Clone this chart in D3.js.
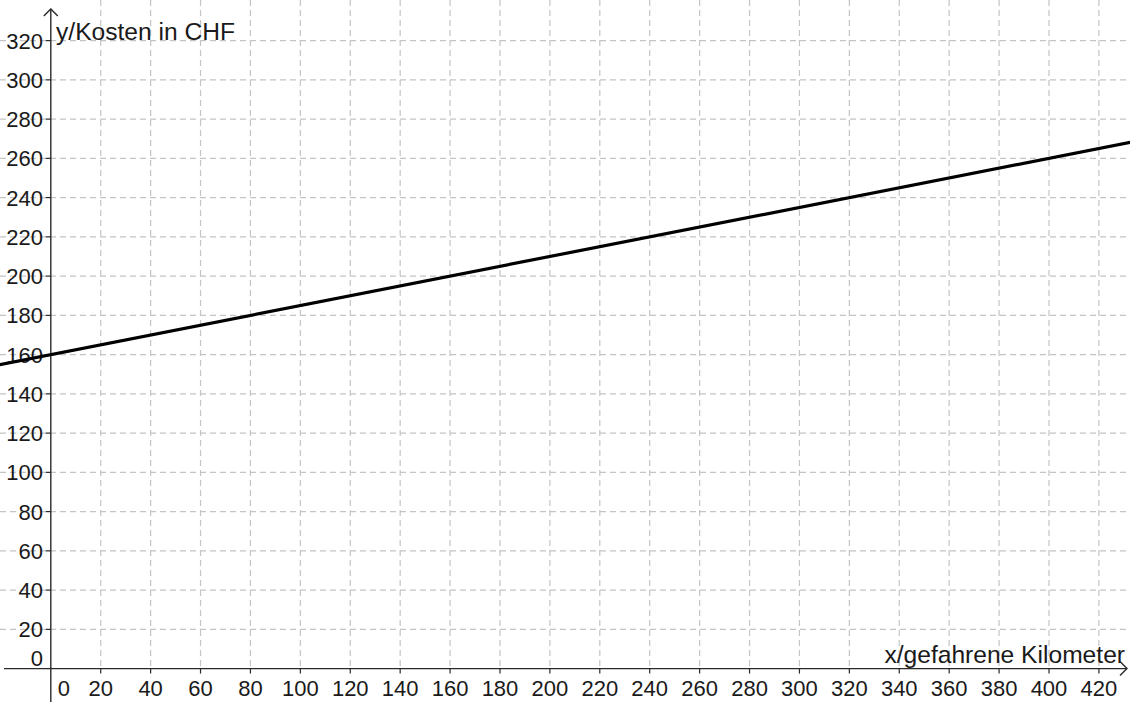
<!DOCTYPE html>
<html>
<head>
<meta charset="utf-8">
<script src="https://cdn.jsdelivr.net/npm/d3@7"></script>
<style>
  html, body { margin: 0; padding: 0; background: #fff; }
  svg { display: block; }
  text { font-family: "Liberation Sans", Arial, sans-serif; fill: #1a1a1a; }
</style>
</head>
<body>
<svg id="chart" width="1130" height="702"></svg>
<script>
// ---- data ----
const xTicks = [0, 20, 40, 60, 80, 100, 120, 140, 160, 180, 200, 220, 240, 260, 280, 300, 320, 340, 360, 380, 400, 420];
const yTicks = [0, 20, 40, 60, 80, 100, 120, 140, 160, 180, 200, 220, 240, 260, 280, 300, 320];
const lineX = [-25, 440];          // km
const intercept = [160];           // CHF base cost
const slope = [0.25];              // CHF per km
const xLabel = "x/gefahrene Kilometer";
const yLabel = "y/Kosten in CHF";

// ---- layout ----
const W = 1130, H = 702;
const svg = d3.select("#chart");
const x = d3.scaleLinear().domain([0, 420]).range([50.8, 1098.9]);
const y = d3.scaleLinear().domain([0, 320]).range([668.6, 40.6]);

const gridColor = "#c4c4c4";
const dash = "6,4";

// horizontal grid lines
const hGrid = d3.range(20, 340, 20);
svg.append("g").selectAll("line").data(hGrid).join("line")
  .attr("x1", 0).attr("x2", W)
  .attr("y1", d => y(d)).attr("y2", d => y(d))
  .attr("stroke", gridColor).attr("stroke-width", 1.2)
  .attr("stroke-dasharray", dash);

// vertical grid lines
const vGrid = d3.range(20, 460, 20);
svg.append("g").selectAll("line").data(vGrid).join("line")
  .attr("x1", d => x(d)).attr("x2", d => x(d))
  .attr("y1", 0).attr("y2", y(0))
  .attr("stroke", gridColor).attr("stroke-width", 1.2)
  .attr("stroke-dasharray", dash);

const axisColor = "#2a2a2a";

// x axis
svg.append("line").attr("x1", 4).attr("x2", 1127)
  .attr("y1", y(0)).attr("y2", y(0))
  .attr("stroke", axisColor).attr("stroke-width", 1.4);
svg.append("path")
  .attr("d", `M1120,${y(0) - 7} L1127,${y(0)} L1120,${y(0) + 7}`)
  .attr("fill", "none").attr("stroke", axisColor).attr("stroke-width", 1.4);

// y axis
svg.append("line").attr("x1", x(0)).attr("x2", x(0))
  .attr("y1", 9).attr("y2", H)
  .attr("stroke", axisColor).attr("stroke-width", 1.4);
svg.append("path")
  .attr("d", `M${x(0) - 7},16 L${x(0)},9 L${x(0) + 7},16`)
  .attr("fill", "none").attr("stroke", axisColor).attr("stroke-width", 1.4);

// x ticks
svg.append("g").selectAll("line").data(xTicks.filter(d => d !== 0)).join("line")
  .attr("x1", d => x(d)).attr("x2", d => x(d))
  .attr("y1", y(0)).attr("y2", y(0) + 5)
  .attr("stroke", axisColor).attr("stroke-width", 1.2);
svg.append("g").selectAll("text").data(xTicks).join("text")
  .attr("x", d => d === 0 ? x(0) + 13 : x(d))
  .attr("y", 695.5)
  .attr("text-anchor", "middle")
  .attr("font-size", 22)
  .text(d => d);

// y ticks
svg.append("g").selectAll("line").data(yTicks.filter(d => d !== 0)).join("line")
  .attr("x1", x(0) - 5).attr("x2", x(0))
  .attr("y1", d => y(d)).attr("y2", d => y(d))
  .attr("stroke", axisColor).attr("stroke-width", 1.2);
svg.append("g").selectAll("text").data(yTicks).join("text")
  .attr("x", 43)
  .attr("y", d => d === 0 ? 665.5 : y(d) + 8)
  .attr("text-anchor", "end")
  .attr("font-size", 22)
  .text(d => d);

// axis labels
svg.append("text").attr("x", 56).attr("y", 39.5)
  .attr("font-size", 24.6).text(yLabel);
svg.append("text").attr("x", 1125).attr("y", 663)
  .attr("text-anchor", "end")
  .attr("font-size", 24.6).text(xLabel);

// function line
const pts = lineX.map(v => [v, intercept[0] + slope[0] * v]);
svg.append("path")
  .datum(pts)
  .attr("d", d3.line().x(d => x(d[0])).y(d => y(d[1])))
  .attr("fill", "none").attr("stroke", "#000").attr("stroke-width", 3.2);
</script>
</body>
</html>
